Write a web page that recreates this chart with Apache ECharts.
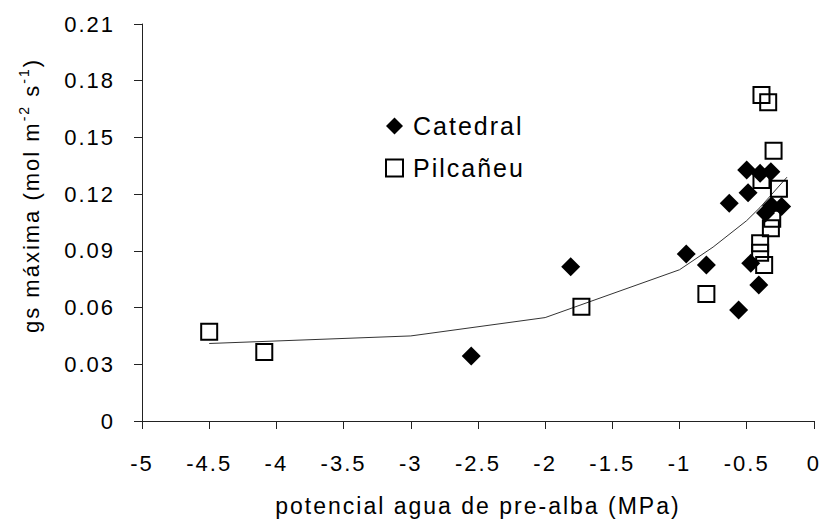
<!DOCTYPE html>
<html>
<head>
<meta charset="utf-8">
<script src="https://cdn.jsdelivr.net/npm/echarts@6/dist/echarts.min.js"></script>
<style>
  html, body { margin: 0; padding: 0; background: #fff; }
  #chart { width: 823px; height: 522px; }
  /* the original uses wide character spacing */
  #chart text { letter-spacing: 2px; }
</style>
</head>
<body>
<div id="chart"></div>
<script>
// Catedral (filled diamonds)
const catedralX = [-2.55, -1.81, -0.95, -0.80, -0.56, -0.47, -0.41, -0.50, -0.40, -0.32, -0.49, -0.63, -0.315, -0.24, -0.36]
const catedralY = [0.0344, 0.0816, 0.0884, 0.0825, 0.0587, 0.0834, 0.072, 0.1328, 0.131, 0.1319, 0.1208, 0.1152, 0.1138, 0.1134, 0.110]
// Pilcañeu (open squares)
const pilcaneuX = [-4.5, -4.09, -1.73, -0.80, -0.39, -0.34, -0.30, -0.26, -0.39, -0.31, -0.32, -0.40, -0.40, -0.37]
const pilcaneuY = [0.0472, 0.0365, 0.0605, 0.0672, 0.1725, 0.1686, 0.1429, 0.1228, 0.1275, 0.107, 0.102, 0.094, 0.089, 0.0825]
// fitted curve
const fitX = [-4.5, -3, -2, -1, -0.75, -0.5, -0.4, -0.2]
const fitY = [0.041, 0.045, 0.0547, 0.080, 0.092, 0.106, 0.113, 0.129]

const zip = (xs, ys) => xs.map((x, i) => [x, ys[i]])
const font = 'Liberation Sans, Arial, sans-serif'
const sp = 2 // letter spacing set in the css, rich tokens need it as padding

let myChart = echarts.init(document.getElementById('chart'), null, { renderer: 'svg' })
myChart.setOption({
  animation: false,
  grid: {
    left: 142,
    right: 9,
    top: 24,
    bottom: 101
  },
  legend: {
    orient: 'vertical',
    left: 385,
    top: 113,
    itemWidth: 17,
    itemHeight: 17,
    itemGap: 16,
    padding: 0,
    data: ['Catedral', 'Pilcañeu'],
    textStyle: {
      fontFamily: font,
      fontSize: 25,
      lineHeight: 26,
      color: '#000',
      padding: [0, 0, 0, 5]
    }
  },
  xAxis: {
    type: 'value',
    min: -5,
    max: 0,
    interval: 0.5,
    name: 'potencial agua de pre-alba (MPa)',
    nameLocation: 'middle',
    nameGap: 73,
    nameTextStyle: { fontFamily: font, fontSize: 23, color: '#000' },
    axisLine: { onZero: false, lineStyle: { color: '#222', width: 1 } },
    axisTick: { show: true, length: 8, lineStyle: { color: '#222' } },
    axisLabel: { fontFamily: font, fontSize: 22, color: '#000', margin: 31 },
    splitLine: { show: false }
  },
  yAxis: {
    type: 'value',
    min: 0,
    max: 0.21,
    interval: 0.03,
    name: '{a|gs máxima (mol m}{s1|-2}{b| s}{s2|-1}{c|)}',
    nameLocation: 'middle',
    nameGap: 97,
    nameRotate: 90,
    nameTextStyle: {
      fontFamily: font,
      fontSize: 22,
      color: '#000',
      lineHeight: 28,
      padding: [0, 0, 0, 52],
      rich: {
        a: { fontFamily: font, fontSize: 22, lineHeight: 28, align: 'left' },
        s1: { fontFamily: font, fontSize: 14, lineHeight: 28, align: 'left', verticalAlign: 'top', padding: [0, 0, 12, 16 * sp] },
        b: { fontFamily: font, fontSize: 22, lineHeight: 28, align: 'left', padding: [0, 0, 0, 2 * sp] },
        s2: { fontFamily: font, fontSize: 14, lineHeight: 28, align: 'left', verticalAlign: 'top', padding: [0, 0, 12, 2 * sp] },
        c: { fontFamily: font, fontSize: 22, lineHeight: 28, align: 'left', padding: [0, 0, 0, 2 * sp] }
      }
    },
    axisLine: { show: true, onZero: false, lineStyle: { color: '#222', width: 1 } },
    axisTick: { show: true, length: 8, lineStyle: { color: '#222' } },
    axisLabel: {
      fontFamily: font,
      fontSize: 22,
      color: '#000',
      margin: 27,
      formatter: v => v === 0 ? '0' : v.toFixed(2)
    },
    splitLine: { show: false }
  },
  series: [
    {
      name: 'fit',
      type: 'line',
      data: zip(fitX, fitY),
      showSymbol: false,
      silent: true,
      z: 1,
      lineStyle: { color: '#333', width: 1 }
    },
    {
      name: 'Catedral',
      type: 'scatter',
      symbol: 'diamond',
      symbolSize: 19,
      z: 2,
      itemStyle: { color: '#000', opacity: 1 },
      data: zip(catedralX, catedralY)
    },
    {
      name: 'Pilcañeu',
      type: 'scatter',
      symbol: 'rect',
      symbolSize: 16,
      z: 3,
      itemStyle: { color: 'rgba(255,255,255,0)', borderColor: '#000', borderWidth: 2, opacity: 1 },
      data: zip(pilcaneuX, pilcaneuY)
    }
  ]
})
</script>
</body>
</html>
